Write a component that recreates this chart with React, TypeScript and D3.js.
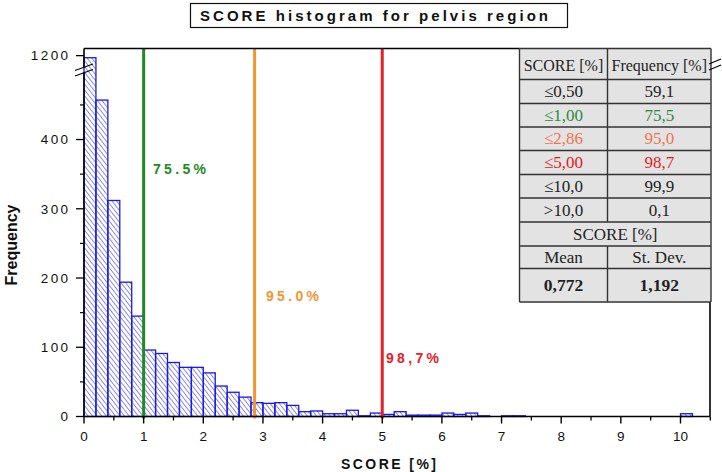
import React from 'react';
import * as d3 from 'd3';

// ---------- data ----------
const binStarts = [
  0, 0.2, 0.4, 0.6, 0.8, 1.0, 1.2, 1.4, 1.6, 1.8,
  2.0, 2.2, 2.4, 2.6, 2.8, 3.0, 3.2, 3.4, 3.6, 3.8,
  4.0, 4.2, 4.4, 4.6, 4.8, 5.0, 5.2, 5.4, 5.6, 5.8,
  6.0, 6.2, 6.4, 6.6, 6.8, 7.0, 7.2, 7.4, 7.6, 7.8,
  8.0, 8.2, 8.4, 8.6, 8.8, 9.0, 9.2, 9.4, 9.6, 9.8,
  10.0, 10.2,
];
const binWidth = 0.2;
const frequencies = [
  1197, 457, 312, 194, 145, 96, 91, 78, 71, 71,
  63, 44, 35, 28, 20, 19, 20, 16, 7, 8,
  4, 4, 9, 1, 5, 3, 7, 2, 2, 2,
  5, 3, 5, 1, 0, 1, 1, 0, 0, 0,
  0, 0, 0, 0, 0, 0, 0, 0, 0, 0,
  4, 0,
];

const xTicks = [0, 1, 2, 3, 4, 5, 6, 7, 8, 9, 10];
const xMinorTicks = [0.5, 1.5, 2.5, 3.5, 4.5, 5.5, 6.5, 7.5, 8.5, 9.5, 10.5];
const yTicksLow = [0, 100, 200, 300, 400];
const yMinorLow = [50, 150, 250, 350, 450];
const yTicksHigh = [1200];

const markerValues = [1.0, 2.86, 5.0];
const markerLabels = ['75.5%', '95.0%', '98,7%'];
const markerColors = ['#1f8a22', '#f4962e', '#e8202a'];

const tableScore = ['≤0,50', '≤1,00', '≤2,86', '≤5,00', '≤10,0', '>10,0'];
const tableFreq = ['59,1', '75,5', '95,0', '98,7', '99,9', '0,1'];
const tableColors = ['#222222', '#2e8b3e', '#f0744c', '#e21b23', '#222222', '#222222'];
const statLabels = ['Mean', 'St. Dev.'];
const statValues = ['0,772', '1,192'];

const titleText = 'SCORE histogram for pelvis region';
const xTitle = 'SCORE [%]';
const yTitle = 'Frequency';

// ---------- layout ----------
const W = 722;
const H = 472;
const left = 84;
const right = 710;
const top = 48.5;
const bottom = 416.5;

const x = d3.scaleLinear().domain([0, 10.5]).range([left, left + 10.5 * 59.65]);
const yLow = d3.scaleLinear().domain([0, 500]).range([bottom, 70.3]);
const yHigh = d3.scaleLinear().domain([1180, 1210]).range([69.5, 48.7]);
const y = (v: number) => (v <= 500 ? yLow(v) : yHigh(v));

const sans = "'Liberation Sans', Arial, sans-serif";
const serif = "'Liberation Serif', 'Times New Roman', serif";

// table geometry
const tL = 519.5;
const tM = 607.5;
const tR = 711;
const rowLines = [48.5, 79.5, 103.5, 127, 150.5, 174.5, 198, 222, 246, 268.5, 302];

export default function App() {
  const bars = binStarts
    .map((b, i) => ({ b, v: frequencies[i] }))
    .filter((d) => d.v > 0);

  return (
    <svg
      width={W}
      height={H}
      style={{ position: 'absolute', left: 0, top: 0, background: '#fff' }}
      xmlns="http://www.w3.org/2000/svg"
    >
      <defs>
        <pattern
          id="hatch"
          patternUnits="userSpaceOnUse"
          width={3.6}
          height={6}
          patternTransform="rotate(-38)"
        >
          <line x1={0.5} y1={0} x2={0.5} y2={6} stroke="#5a5ad8" strokeWidth={0.75} />
        </pattern>
      </defs>
      <rect x={0} y={0} width={W} height={H} fill="#fff" />

      {/* title */}
      <rect x={190.5} y={3.5} width={377} height={24} fill="#fff" stroke="#111" strokeWidth={1.2} />
      <text
        x={200}
        y={21}
        fontFamily={sans}
        fontWeight="bold"
        fontSize={15}
        textLength={348}
        lengthAdjust="spacing"
        fill="#111"
      >
        {titleText}
      </text>

      {/* bars */}
      {bars.map((d, i) => (
        <rect
          key={i}
          x={x(d.b)}
          y={y(d.v)}
          width={x(d.b + binWidth) - x(d.b)}
          height={bottom - y(d.v)}
          fill="url(#hatch)"
          stroke="#1a1ae6"
          strokeWidth={1.3}
        />
      ))}

      {/* marker lines */}
      {markerValues.map((m, i) => (
        <line
          key={i}
          x1={x(m)}
          x2={x(m)}
          y1={top}
          y2={bottom + 2}
          stroke={markerColors[i]}
          strokeWidth={3}
        />
      ))}

      {/* marker labels */}
      {[
        { x: 153, y: 174 },
        { x: 266, y: 301 },
        { x: 386, y: 363 },
      ].map((p, i) => (
        <text
          key={i}
          x={p.x}
          y={p.y}
          fontFamily={sans}
          fontWeight="bold"
          fontSize={14}
          textLength={53}
          lengthAdjust="spacing"
          fill={markerColors[i]}
        >
          {markerLabels[i]}
        </text>
      ))}

      {/* frame */}
      <line x1={left} x2={right} y1={bottom} y2={bottom} stroke="#000" strokeWidth={1.6} />
      <line x1={left} x2={tL} y1={top} y2={top} stroke="#000" strokeWidth={1.3} />
      <line x1={right} x2={right} y1={top} y2={bottom} stroke="#000" strokeWidth={1.6} />
      <line x1={left} x2={left} y1={bottom} y2={72.5} stroke="#000" strokeWidth={1.6} />
      <line x1={left} x2={left} y1={67} y2={top} stroke="#000" strokeWidth={1.6} />
      {/* left break marks */}
      <line x1={left - 9} y1={70.5} x2={left + 9} y2={64} stroke="#000" strokeWidth={1.1} />
      <line x1={left - 9} y1={76} x2={left + 9} y2={69.5} stroke="#000" strokeWidth={1.1} />

      {/* y ticks */}
      {yTicksLow.map((t) => (
        <g key={'yl' + t}>
          <line x1={left - 8} x2={left} y1={yLow(t)} y2={yLow(t)} stroke="#000" strokeWidth={1.3} />
          <text
            x={70.5}
            y={yLow(t) + 4.8}
            textAnchor="end"
            fontFamily={sans}
            fontSize={13.5}
            letterSpacing={2.4}
            fill="#111"
          >
            {String(t)}
          </text>
        </g>
      ))}
      {yMinorLow.map((t) => (
        <line key={'ym' + t} x1={left - 4} x2={left} y1={yLow(t)} y2={yLow(t)} stroke="#000" strokeWidth={1.2} />
      ))}
      {yTicksHigh.map((t) => (
        <g key={'yh' + t}>
          <line x1={left - 8} x2={left} y1={yHigh(t)} y2={yHigh(t)} stroke="#000" strokeWidth={1.3} />
          <text
            x={70.5}
            y={yHigh(t) + 4.8}
            textAnchor="end"
            fontFamily={sans}
            fontSize={13.5}
            letterSpacing={2.4}
            fill="#111"
          >
            {String(t)}
          </text>
        </g>
      ))}

      {/* x ticks */}
      {xTicks.map((t) => (
        <g key={'x' + t}>
          <line x1={x(t)} x2={x(t)} y1={bottom} y2={bottom + 7} stroke="#000" strokeWidth={1.4} />
          <text
            x={x(t)}
            y={441}
            textAnchor="middle"
            fontFamily={sans}
            fontSize={13.5}
            fill="#111"
          >
            {String(t)}
          </text>
        </g>
      ))}
      {xMinorTicks.map((t) => (
        <line key={'xm' + t} x1={x(t)} x2={x(t)} y1={bottom} y2={bottom + 4} stroke="#000" strokeWidth={1.3} />
      ))}

      {/* axis titles */}
      <text
        x={341}
        y={469}
        fontFamily={sans}
        fontWeight="bold"
        fontSize={14}
        textLength={95}
        lengthAdjust="spacing"
        fill="#111"
      >
        {xTitle}
      </text>
      <text
        transform="translate(17,245) rotate(-90)"
        textAnchor="middle"
        fontFamily={sans}
        fontWeight="bold"
        fontSize={16}
        fill="#111"
      >
        {yTitle}
      </text>

      {/* table */}
      <rect x={tL} y={rowLines[0]} width={tR - tL} height={rowLines[10] - rowLines[0]} fill="#e3e3e3" />
      {rowLines.map((ry, i) => (
        <line key={'r' + i} x1={tL} x2={tR} y1={ry} y2={ry} stroke="#333" strokeWidth={1.4} />
      ))}
      <line x1={tL} x2={tL} y1={rowLines[0]} y2={rowLines[10]} stroke="#333" strokeWidth={1.4} />
      <line x1={tR} x2={tR} y1={rowLines[0]} y2={rowLines[10]} stroke="#333" strokeWidth={1.4} />
      <line x1={tM} x2={tM} y1={rowLines[0]} y2={rowLines[7]} stroke="#333" strokeWidth={1.4} />
      <line x1={tM} x2={tM} y1={rowLines[8]} y2={rowLines[10]} stroke="#333" strokeWidth={1.4} />

      <text x={(tL + tM) / 2} y={71} textAnchor="middle" fontFamily={serif} fontSize={16} fill="#222">
        SCORE [%]
      </text>
      <text x={(tM + tR) / 2} y={71} textAnchor="middle" fontFamily={serif} fontSize={16} fill="#222">
        Frequency [%]
      </text>
      {tableScore.map((s, i) => {
        const cy = (rowLines[i + 1] + rowLines[i + 2]) / 2 + 5.5;
        return (
          <g key={'t' + i}>
            <text x={(tL + tM) / 2} y={cy} textAnchor="middle" fontFamily={serif} fontSize={17} fill={tableColors[i]}>
              {s}
            </text>
            <text x={(tM + tR) / 2} y={cy} textAnchor="middle" fontFamily={serif} fontSize={17} fill={tableColors[i]}>
              {tableFreq[i]}
            </text>
          </g>
        );
      })}
      <text x={(tL + tR) / 2} y={(rowLines[7] + rowLines[8]) / 2 + 5.5} textAnchor="middle" fontFamily={serif} fontSize={17} fill="#222">
        SCORE [%]
      </text>
      {statLabels.map((s, i) => (
        <text
          key={'sl' + i}
          x={i === 0 ? (tL + tM) / 2 : (tM + tR) / 2}
          y={(rowLines[8] + rowLines[9]) / 2 + 5.5}
          textAnchor="middle"
          fontFamily={serif}
          fontSize={17}
          fill="#222"
        >
          {s}
        </text>
      ))}
      {statValues.map((s, i) => (
        <text
          key={'sv' + i}
          x={i === 0 ? (tL + tM) / 2 : (tM + tR) / 2}
          y={(rowLines[9] + rowLines[10]) / 2 + 6}
          textAnchor="middle"
          fontFamily={serif}
          fontWeight="bold"
          fontSize={17.5}
          fill="#222"
        >
          {s}
        </text>
      ))}

      {/* right break marks */}
      <line x1={709} y1={64} x2={721} y2={59} stroke="#000" strokeWidth={1.1} />
      <line x1={709} y1={70} x2={721} y2={65} stroke="#000" strokeWidth={1.1} />
    </svg>
  );
}
